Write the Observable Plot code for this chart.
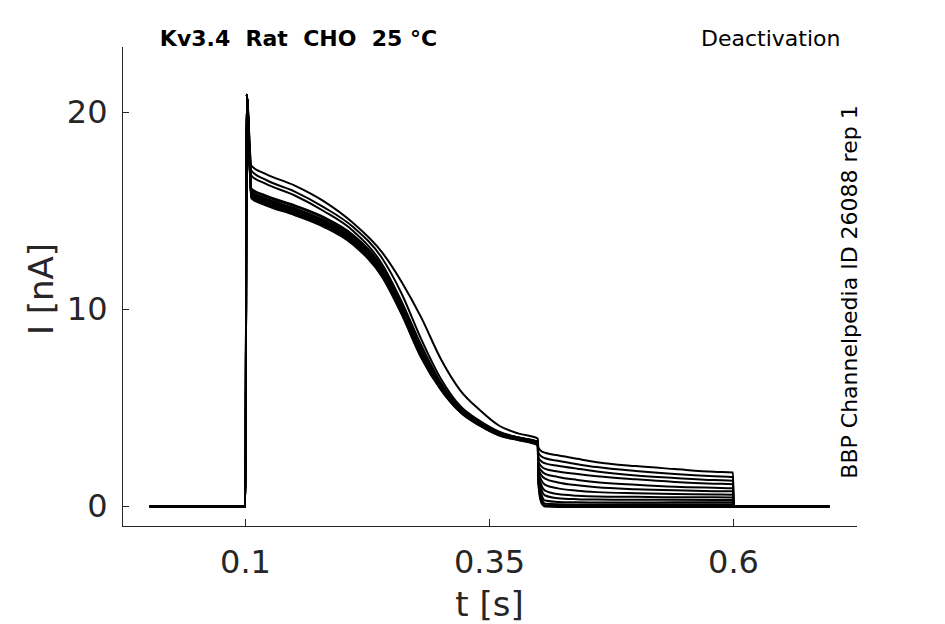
<!DOCTYPE html>
<html>
<head>
<meta charset="utf-8">
<script src="https://cdn.jsdelivr.net/npm/d3@7"></script>
<script src="https://cdn.jsdelivr.net/npm/@observablehq/plot@0.6"></script>
<style>
  html, body { margin: 0; padding: 0; background: #fff; }
  #chart { width: 945px; height: 624px; }
</style>
</head>
<body>
<div id="chart"></div>
<script>
// ---- Data (t in s, I in nA) ----
const tMain = [0.0025, 0.1, 0.1012, 0.106, 0.12, 0.15, 0.18, 0.21, 0.24, 0.26, 0.28, 0.30, 0.32, 0.34, 0.36, 0.38, 0.3995];
const mainTraces = [
  [0, 0, 20.9, 17.3, 16.9, 16.3, 15.5, 14.4, 12.9, 11.4, 9.6, 7.5, 5.9, 4.9, 4.1, 3.7, 3.45],
  [0, 0, 20.9, 17.05, 16.6, 16.0, 15.2, 14.2, 12.6, 10.8, 8.5, 6.5, 5.1, 4.35, 3.8, 3.5, 3.3],
  [0, 0, 20.9, 16.8, 16.4, 15.8, 15.0, 14.0, 12.3, 10.4, 8.2, 6.3, 5.0, 4.3, 3.75, 3.45, 3.28],
  [0, 0, 20.9, 16.15, 15.8, 15.3, 14.7, 13.8, 12.15, 10.25, 8.0, 6.25, 5.0, 4.28, 3.76, 3.5, 3.26],
  [0, 0, 20.9, 16.1, 15.75, 15.25, 14.65, 13.75, 12.1, 10.2, 7.95, 6.2, 4.97, 4.26, 3.74, 3.49, 3.24],
  [0, 0, 20.9, 16.0, 15.65, 15.15, 14.55, 13.65, 12.0, 10.1, 7.9, 6.15, 4.94, 4.23, 3.72, 3.47, 3.22],
  [0, 0, 20.9, 15.95, 15.6, 15.1, 14.5, 13.6, 11.95, 10.05, 7.85, 6.12, 4.92, 4.21, 3.71, 3.46, 3.21],
  [0, 0, 20.9, 15.9, 15.55, 15.05, 14.45, 13.55, 11.9, 10.0, 7.8, 6.1, 4.9, 4.2, 3.7, 3.45, 3.2],
  [0, 0, 20.9, 15.85, 15.5, 15.0, 14.4, 13.5, 11.85, 9.95, 7.75, 6.07, 4.88, 4.18, 3.68, 3.43, 3.18],
  [0, 0, 20.9, 15.8, 15.45, 14.95, 14.35, 13.45, 11.8, 9.9, 7.7, 6.03, 4.85, 4.16, 3.66, 3.41, 3.16],
  [0, 0, 20.9, 15.75, 15.4, 14.9, 14.3, 13.4, 11.75, 9.85, 7.65, 6.0, 4.82, 4.14, 3.64, 3.4, 3.15],
  [0, 0, 20.9, 15.7, 15.35, 14.85, 14.25, 13.35, 11.7, 9.8, 7.6, 5.97, 4.8, 4.12, 3.62, 3.38, 3.13],
  [0, 0, 20.9, 15.65, 15.3, 14.8, 14.2, 13.3, 11.65, 9.75, 7.55, 5.93, 4.78, 4.1, 3.6, 3.36, 3.11]
];
const tTail = [0.4, 0.403, 0.407, 0.42, 0.44, 0.46, 0.5, 0.54, 0.58, 0.5995];
const tailTraces = [
  [3.0, 2.82, 2.73, 2.6, 2.42, 2.25, 2.05, 1.9, 1.76, 1.72],
  [2.75, 2.55, 2.45, 2.32, 2.15, 2.0, 1.8, 1.65, 1.54, 1.5],
  [2.5, 2.3, 2.19, 2.07, 1.92, 1.78, 1.58, 1.45, 1.34, 1.31],
  [2.3, 2.05, 1.91, 1.78, 1.65, 1.54, 1.38, 1.25, 1.16, 1.13],
  [2.1, 1.82, 1.66, 1.5, 1.35, 1.23, 1.1, 1.0, 0.95, 0.93],
  [1.95, 1.6, 1.41, 1.22, 1.08, 0.98, 0.88, 0.82, 0.78, 0.77],
  [1.8, 1.35, 1.10, 0.92, 0.8, 0.73, 0.67, 0.63, 0.61, 0.6],
  [1.7, 1.1, 0.81, 0.63, 0.55, 0.51, 0.49, 0.47, 0.47, 0.46],
  [1.6, 0.9, 0.56, 0.42, 0.37, 0.35, 0.34, 0.34, 0.33, 0.33],
  [1.5, 0.65, 0.30, 0.23, 0.21, 0.2, 0.2, 0.21, 0.21, 0.21],
  [1.4, 0.45, 0.14, 0.11, 0.1, 0.1, 0.11, 0.11, 0.12, 0.12],
  [1.3, 0.3, 0.05, 0.03, 0.03, 0.03, 0.04, 0.04, 0.04, 0.04],
  [1.2, 0.2, 0.0, -0.02, -0.02, -0.02, -0.02, -0.02, -0.02, -0.02]
];
const tEnd = [0.6, 0.6975];
const endValues = [0, 0];

const xTicks = [0.1, 0.35, 0.6];
const yTicks = [0, 10, 20];
const xDomain = [-0.026, 0.726];
const yDomain = [-1.015, 23.3];

const titleText = "Kv3.4\u00a0\u00a0Rat\u00a0\u00a0CHO\u00a0\u00a025\u00a0°C";
const protocolText = "Deactivation";
const sideText = "BBP Channelpedia ID 26088 rep 1";
const xLabel = "t [s]";
const yLabel = "I [nA]";

// ---- Build table ----
const rows = [];
mainTraces.forEach((vals, k) => {
  tMain.forEach((t, i) => rows.push({trace: k, t, I: vals[i]}));
  tTail.forEach((t, i) => rows.push({trace: k, t, I: tailTraces[k][i]}));
  tEnd.forEach((t, i) => rows.push({trace: k, t, I: endValues[i]}));
});

const axisColor = "#262626";
const font = "DejaVu Sans";

const chart = Plot.plot({
  width: 945,
  height: 624,
  marginLeft: 122,
  marginRight: 89,
  marginTop: 47,
  marginBottom: 98,
  style: {fontFamily: font, color: axisColor, background: "#fff"},
  x: {domain: xDomain, axis: null},
  y: {domain: yDomain, axis: null},
  marks: [
    Plot.frame({anchor: "left", stroke: axisColor, strokeWidth: 1}),
    Plot.frame({anchor: "bottom", stroke: axisColor, strokeWidth: 1}),
    Plot.axisX({ticks: xTicks, tickSize: -7, tickPadding: 31, tickFormat: d => String(d), fontSize: 32, label: null, stroke: axisColor, fill: axisColor}),
    Plot.axisY({ticks: yTicks, tickSize: -7, tickPadding: 22, tickFormat: d => String(d), fontSize: 32, label: null, stroke: axisColor, fill: axisColor}),
    Plot.line(rows, {x: "t", y: "I", z: "trace", stroke: "#000", strokeWidth: 2, curve: "monotone-x"}),
    Plot.text([xLabel], {frameAnchor: "bottom", dy: 79, text: d => d, fontSize: 34, fill: axisColor, textAnchor: "middle", lineAnchor: "middle"}),
    Plot.text([yLabel], {frameAnchor: "left", dx: -80, dy: 2, text: d => d, fontSize: 34, fill: axisColor, rotate: -90, textAnchor: "middle", lineAnchor: "middle"}),
    Plot.text([titleText], {frameAnchor: "top-left", dx: 176, dy: -2, text: d => d, fontSize: 22, fontWeight: "bold", fill: "#000", textAnchor: "middle", lineAnchor: "bottom"}),
    Plot.text([protocolText], {frameAnchor: "top-right", dx: -16, dy: -2, text: d => d, fontSize: 22, fill: "#000", textAnchor: "end", lineAnchor: "bottom"}),
    Plot.text([sideText], {frameAnchor: "right", dx: -7, dy: 5, text: d => d, fontSize: 22, fill: "#000", rotate: -90, textAnchor: "middle", lineAnchor: "middle"})
  ]
});
document.getElementById("chart").appendChild(chart);
</script>
</body>
</html>
